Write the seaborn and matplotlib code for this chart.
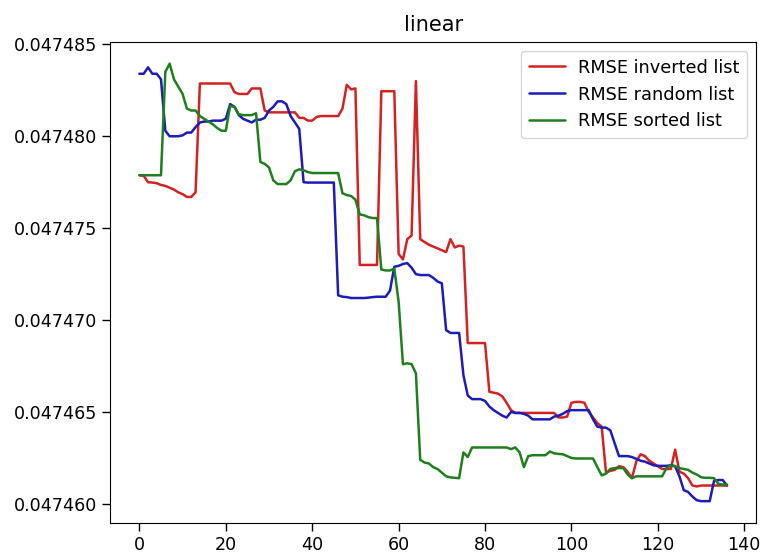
import matplotlib
matplotlib.use("Agg")
import matplotlib.pyplot as plt
import pandas as pd
import seaborn as sns
from matplotlib.ticker import FormatStrFormatter

# ---- data ----
steps = list(range(137))

rmse_inverted = [
    0.04747788, 0.04747785, 0.04747750, 0.04747748, 0.04747745, 0.04747735, 0.04747730, 0.04747720, 0.04747710, 0.04747695,
    0.04747685, 0.04747670, 0.04747670, 0.04747695, 0.04748287, 0.04748287, 0.04748287, 0.04748287, 0.04748287, 0.04748287,
    0.04748287, 0.04748287, 0.04748240, 0.04748230, 0.04748230, 0.04748230, 0.04748260, 0.04748260, 0.04748260, 0.04748140,
    0.04748130, 0.04748130, 0.04748130, 0.04748130, 0.04748130, 0.04748130, 0.04748130, 0.04748100, 0.04748100, 0.04748085,
    0.04748085, 0.04748105, 0.04748110, 0.04748110, 0.04748110, 0.04748110, 0.04748110, 0.04748150, 0.04748280, 0.04748255,
    0.04748260, 0.04747300, 0.04747300, 0.04747300, 0.04747300, 0.04747300, 0.04748245, 0.04748245, 0.04748245, 0.04748245,
    0.04747360, 0.04747330, 0.04747440, 0.04747460, 0.04748300, 0.04747440, 0.04747425, 0.04747410, 0.04747400, 0.04747390,
    0.04747380, 0.04747370, 0.04747440, 0.04747395, 0.04747405, 0.04747400, 0.04746875, 0.04746875, 0.04746875, 0.04746875,
    0.04746875, 0.04746610, 0.04746605, 0.04746600, 0.04746585, 0.04746550, 0.04746510, 0.04746495, 0.04746495, 0.04746495,
    0.04746495, 0.04746495, 0.04746495, 0.04746495, 0.04746495, 0.04746495, 0.04746495, 0.04746470, 0.04746470, 0.04746475,
    0.04746550, 0.04746555, 0.04746555, 0.04746550, 0.04746500, 0.04746470, 0.04746440, 0.04746420, 0.04746170, 0.04746180,
    0.04746185, 0.04746205, 0.04746200, 0.04746175, 0.04746140, 0.04746230, 0.04746270, 0.04746260, 0.04746235, 0.04746220,
    0.04746205, 0.04746190, 0.04746190, 0.04746190, 0.04746295, 0.04746175, 0.04746165, 0.04746140, 0.04746100, 0.04746095,
    0.04746100, 0.04746100, 0.04746100, 0.04746100, 0.04746100, 0.04746100, 0.04746100,
]

rmse_random = [
    0.04748340, 0.04748340, 0.04748375, 0.04748340, 0.04748340, 0.04748310, 0.04748030, 0.04748000, 0.04748000, 0.04748000,
    0.04748005, 0.04748020, 0.04748020, 0.04748050, 0.04748075, 0.04748080, 0.04748080, 0.04748085, 0.04748085, 0.04748085,
    0.04748095, 0.04748175, 0.04748160, 0.04748115, 0.04748095, 0.04748085, 0.04748075, 0.04748090, 0.04748090, 0.04748100,
    0.04748140, 0.04748160, 0.04748190, 0.04748190, 0.04748175, 0.04748110, 0.04748075, 0.04748040, 0.04747750, 0.04747748,
    0.04747748, 0.04747748, 0.04747748, 0.04747748, 0.04747748, 0.04747748, 0.04747135, 0.04747127, 0.04747125, 0.04747120,
    0.04747120, 0.04747120, 0.04747120, 0.04747122, 0.04747125, 0.04747127, 0.04747127, 0.04747127, 0.04747160, 0.04747290,
    0.04747295, 0.04747305, 0.04747310, 0.04747285, 0.04747250, 0.04747245, 0.04747245, 0.04747245, 0.04747230, 0.04747210,
    0.04747200, 0.04746945, 0.04746930, 0.04746930, 0.04746930, 0.04746700, 0.04746590, 0.04746570, 0.04746570, 0.04746570,
    0.04746560, 0.04746530, 0.04746510, 0.04746495, 0.04746480, 0.04746470, 0.04746500, 0.04746495, 0.04746495, 0.04746490,
    0.04746480, 0.04746460, 0.04746460, 0.04746460, 0.04746460, 0.04746460, 0.04746475, 0.04746480, 0.04746490, 0.04746505,
    0.04746510, 0.04746510, 0.04746510, 0.04746510, 0.04746510, 0.04746460, 0.04746420, 0.04746415, 0.04746415, 0.04746400,
    0.04746330, 0.04746260, 0.04746260, 0.04746260, 0.04746255, 0.04746245, 0.04746235, 0.04746230, 0.04746220, 0.04746210,
    0.04746207, 0.04746207, 0.04746207, 0.04746210, 0.04746205, 0.04746150, 0.04746075, 0.04746065, 0.04746040, 0.04746020,
    0.04746015, 0.04746015, 0.04746015, 0.04746125, 0.04746130, 0.04746130, 0.04746100,
]

rmse_sorted = [
    0.04747788, 0.04747788, 0.04747788, 0.04747788, 0.04747788, 0.04747788, 0.04748350, 0.04748395, 0.04748310, 0.04748270,
    0.04748230, 0.04748150, 0.04748140, 0.04748140, 0.04748110, 0.04748095, 0.04748080, 0.04748065, 0.04748045, 0.04748030,
    0.04748030, 0.04748165, 0.04748160, 0.04748120, 0.04748115, 0.04748115, 0.04748115, 0.04748125, 0.04747860, 0.04747850,
    0.04747830, 0.04747760, 0.04747740, 0.04747740, 0.04747740, 0.04747760, 0.04747810, 0.04747820, 0.04747815, 0.04747805,
    0.04747800, 0.04747800, 0.04747800, 0.04747800, 0.04747800, 0.04747800, 0.04747800, 0.04747690, 0.04747680, 0.04747675,
    0.04747655, 0.04747575, 0.04747570, 0.04747560, 0.04747555, 0.04747555, 0.04747275, 0.04747270, 0.04747270, 0.04747280,
    0.04747100, 0.04746760, 0.04746765, 0.04746760, 0.04746710, 0.04746240, 0.04746225, 0.04746220, 0.04746200, 0.04746190,
    0.04746170, 0.04746150, 0.04746144, 0.04746142, 0.04746140, 0.04746280, 0.04746255, 0.04746307, 0.04746307, 0.04746307,
    0.04746307, 0.04746307, 0.04746307, 0.04746307, 0.04746307, 0.04746307, 0.04746298, 0.04746307, 0.04746280, 0.04746200,
    0.04746260, 0.04746265, 0.04746265, 0.04746265, 0.04746265, 0.04746285, 0.04746275, 0.04746272, 0.04746270, 0.04746260,
    0.04746250, 0.04746247, 0.04746247, 0.04746247, 0.04746247, 0.04746247, 0.04746200, 0.04746155, 0.04746165, 0.04746190,
    0.04746195, 0.04746195, 0.04746195, 0.04746160, 0.04746140, 0.04746150, 0.04746150, 0.04746150, 0.04746150, 0.04746150,
    0.04746150, 0.04746150, 0.04746195, 0.04746210, 0.04746205, 0.04746195, 0.04746190, 0.04746185, 0.04746170, 0.04746160,
    0.04746145, 0.04746142, 0.04746142, 0.04746140, 0.04746110, 0.04746105, 0.04746105,
]

series_names = ["RMSE inverted list", "RMSE random list", "RMSE sorted list"]
series_colors = ["#d42222", "#1c1cb8", "#1f7f1f"]
y_ticks = [0.047460, 0.047465, 0.047470, 0.047475, 0.047480, 0.047485]
x_ticks = [0, 20, 40, 60, 80, 100, 120, 140]

df = pd.concat([
    pd.DataFrame({"step": steps, "rmse": vals, "series": name})
    for name, vals in zip(series_names, [rmse_inverted, rmse_random, rmse_sorted])
])

# ---- plot ----
sns.set_style("ticks", {"axes.edgecolor": "black", "xtick.color": "black",
                        "ytick.color": "black", "text.color": "black"})
plt.rcParams["font.family"] = ["DejaVu Sans"]

fig, ax = plt.subplots(figsize=(7.64, 5.57), dpi=100)
ax.set_position([0.144, 0.061, 0.846, 0.864])

sns.lineplot(data=df, x="step", y="rmse", hue="series", hue_order=series_names,
             palette=series_colors, linewidth=1.8, ax=ax)

ax.set_xticks(x_ticks)
ax.set_yticks(y_ticks)
ax.yaxis.set_major_formatter(FormatStrFormatter("%.6f"))
ax.tick_params(labelsize=12.6, length=5.5, width=1)
ax.set_xlabel("")
ax.set_ylabel("")
ax.set_title("linear", fontsize=15, pad=8)

ax.legend(loc="upper right", fontsize=12.8, frameon=True, fancybox=True,
          handlelength=2.0, borderpad=0.45, labelspacing=0.5, handletextpad=0.75)

fig.savefig("out.png", dpi=100)
